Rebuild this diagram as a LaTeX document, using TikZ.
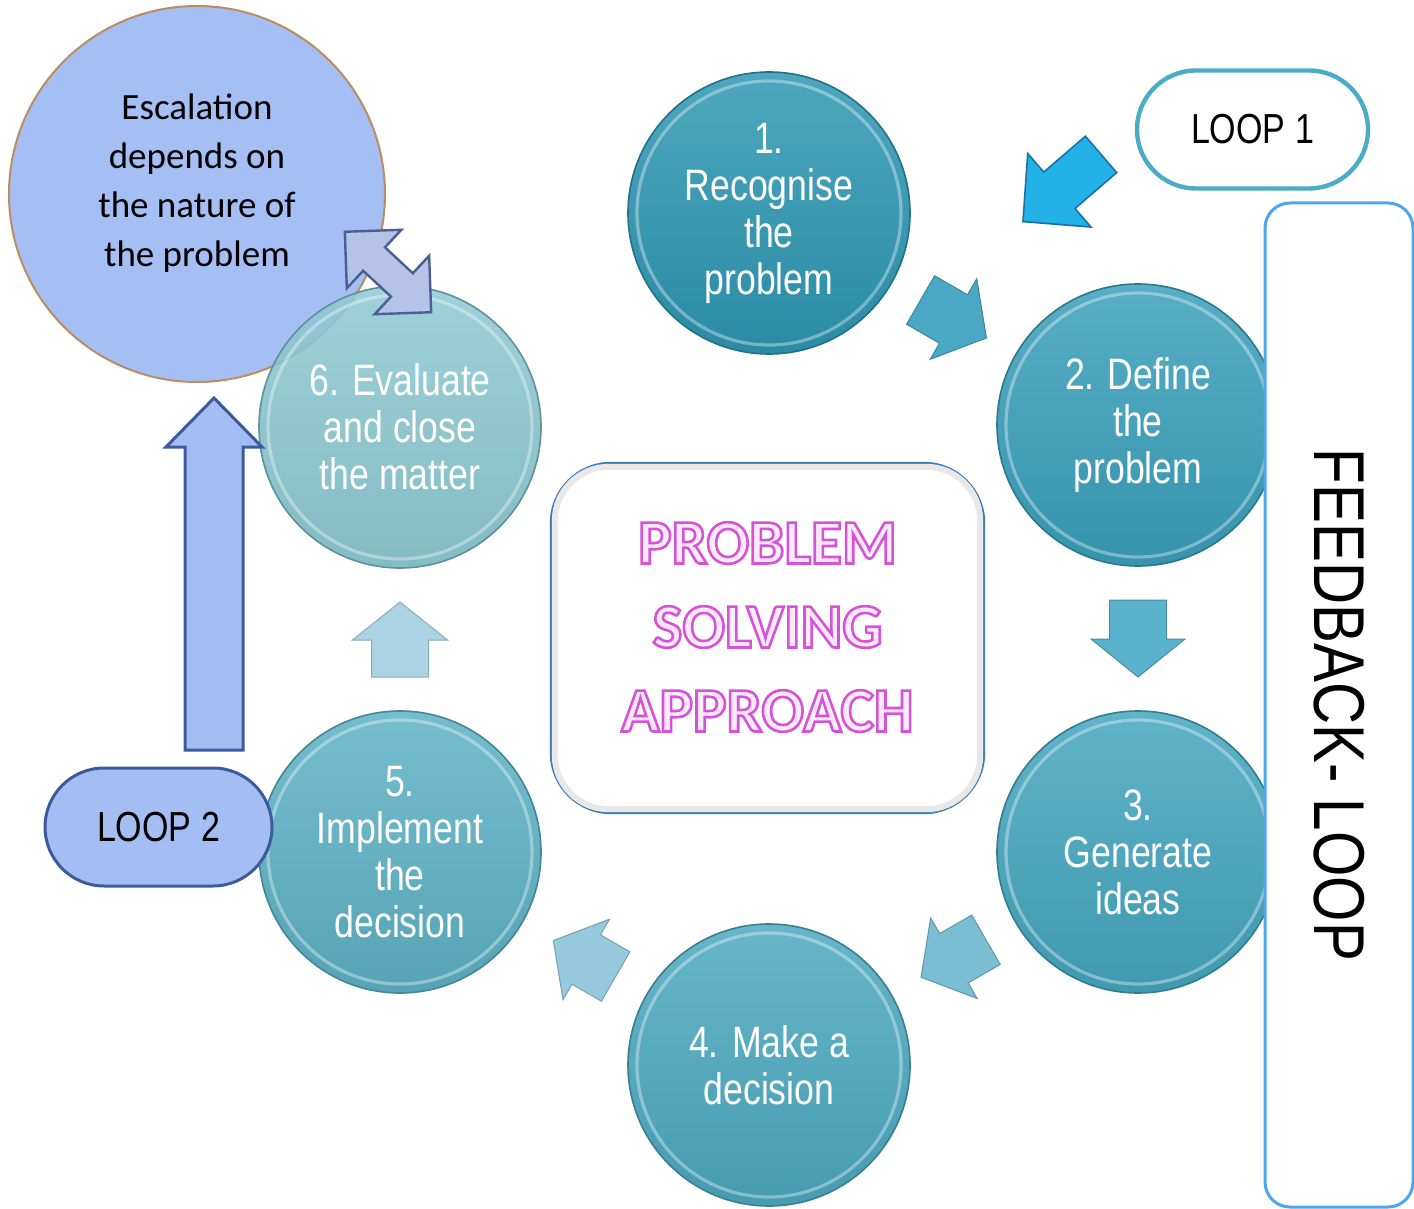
\documentclass[tikz,border=0pt]{standalone}
\usepackage{fontspec}
\setmainfont{Carlito}
\newfontfamily\narrowfont[FakeStretch=0.81]{Liberation Sans}
\usetikzlibrary{calc}

\definecolor{cA}{HTML}{2E97B3}
\definecolor{cB}{HTML}{3AA0BB}
\definecolor{cC}{HTML}{44A6BF}
\definecolor{cD}{HTML}{4CA9C0}
\definecolor{cE}{HTML}{5DB2C5}
\definecolor{cF}{HTML}{7EC2CD}
\definecolor{aA}{HTML}{4AA8C5}
\definecolor{aB}{HTML}{5BB2CC}
\definecolor{aC}{HTML}{7BBDD3}
\definecolor{aD}{HTML}{96C9DC}
\definecolor{aE}{HTML}{AAD3E3}
\definecolor{escfill}{HTML}{A5BEF4}
\definecolor{escdraw}{HTML}{B98E63}
\definecolor{lavfill}{HTML}{A4BDF3}
\definecolor{lavdraw}{HTML}{3D5A9C}
\definecolor{loopone}{HTML}{4BACC6}
\definecolor{skyarrow}{HTML}{22B2E8}
\definecolor{skydraw}{HTML}{1C6FA8}
\definecolor{fbblue}{HTML}{4EA6EC}
\definecolor{boxblue}{HTML}{3C7DB8}
\definecolor{pinkfill}{HTML}{FBEAFB}
\definecolor{dblfill}{HTML}{B4C3E6}
\definecolor{dbldraw}{HTML}{4A5E96}

% outlined text: fill in current colour, stroke in magenta
\newcommand{\outlinetext}[1]{\special{pdf:literal direct 0.84 0.32 0.84 RG 1.3 w 2 Tr}#1\special{pdf:literal direct 0 Tr}}

\tikzset{
  stepcirc/.style={circle, minimum size=141pt, inner sep=0pt,
    top color=#1!85!white, bottom color=#1!92!black,
    draw=#1!75!black, line width=0.8pt, text=white, align=center,
    font=\narrowfont\fontsize{22}{23.5}\selectfont},
  rimring/.style={draw=white, opacity=0.35, line width=1.6pt},
  pics/blockarrow/.style n args={4}{code={
    \path[pic actions] ({-#1/2},{-#2/2}) -- ({#1/2-#4},{-#2/2}) -- ({#1/2-#4},{-#3/2})
      -- ({#1/2},0) -- ({#1/2-#4},{#3/2}) -- ({#1/2-#4},{#2/2}) -- ({-#1/2},{#2/2}) -- cycle;
  }},
  pics/dblarrow/.style n args={4}{code={
    \path[pic actions] ({-#1/2},0) -- ({-#1/2+#4},{#3/2}) -- ({-#1/2+#4},{#2/2})
      -- ({#1/2-#4},{#2/2}) -- ({#1/2-#4},{#3/2}) -- ({#1/2},0)
      -- ({#1/2-#4},{-#3/2}) -- ({#1/2-#4},{-#2/2}) -- ({-#1/2+#4},{-#2/2})
      -- ({-#1/2+#4},{-#3/2}) -- cycle;
  }},
  flowarrow/.style={fill=#1, draw=#1!80!black, line width=0.5pt},
  loopbox/.style={inner sep=0pt, font=\narrowfont\fontsize{21}{24}\selectfont, text=black}
}

\begin{document}
\begin{tikzpicture}[x=0.5pt,y=-0.5pt]
\useasboundingbox (0,0) rectangle (1414,1209);
\clip (0,0) rectangle (1414,1209);
\fill[white] (0,0) rectangle (1414,1209);

% step circles
\node[stepcirc=cA] (c1) at (769,213) {1.\\Recognise\\the\\problem};
\node[stepcirc=cB] (c2) at (1138,425) {2. Define\\the\\problem};
\node[stepcirc=cC] (c3) at (1138,852) {3.\\Generate\\ideas};
\node[stepcirc=cD] (c4) at (769,1065) {4. Make a\\decision};
\node[stepcirc=cE] (c5) at (400,852) {5.\\Implement\\the\\decision};
\foreach \n in {c1,c2,c3,c4,c5}{\draw[rimring] (\n.center) circle[radius=66pt];}

% escalation circle
\node[circle, minimum size=188pt, inner sep=0pt, fill=escfill, draw=escdraw, line width=1pt] (esc) at (197,194) {};
\node[align=center, font=\fontsize{18.5}{24.5}\selectfont, text=black] (esctext) at (197,183)
  {Escalation\\depends on\\the nature of\\the problem};

% step 6 (semi-transparent over escalation)
\node[stepcirc=cF, fill opacity=0.88, text opacity=1] (c6) at (400,427) {6. Evaluate\\and close\\the matter};
\draw[rimring] (c6.center) circle[radius=66pt];

% double arrow between escalation and step 6
\pic[rotate=-43, fill=dblfill, draw=dbldraw, line width=1.2pt] at (388,272) {dblarrow={118}{32}{80}{40}};

% flow arrows
\pic[rotate=-30, flowarrow=aA] at ($(c1)!0.5!(c2)$) {blockarrow={76}{56}{93}{38}};
\pic[rotate=-90, flowarrow=aB] at ($(c2)!0.5!(c3)$) {blockarrow={77}{57}{94}{38}};
\pic[rotate=210, flowarrow=aC] at ($(c3)!0.5!(c4)$) {blockarrow={75}{57}{93}{38}};
\pic[rotate=150, flowarrow=aD] at ($(c4)!0.5!(c5)$) {blockarrow={72}{57}{93}{38}};
\pic[rotate=90, flowarrow=aE] at ($(c5)!0.5!(c6)$) {blockarrow={75}{57}{95}{38}};

% centre box
\node[draw=boxblue, line width=1.2pt, rounded corners=30pt, fill=white,
      minimum width=216.5pt, minimum height=175pt] (centre) at (767.5,638) {};
\draw[gray!18, line width=3pt, rounded corners=27pt] ($(centre.south west)+(5,-5)$) rectangle ($(centre.north east)+(-5,5)$);
\node[align=center, text=pinkfill, font=\bfseries\fontsize{31.5}{42}\selectfont] (title) at (767.5,627)
  {\outlinetext{PROBLEM}\\\outlinetext{SOLVING}\\\outlinetext{APPROACH}};

% feedback loop box
\node[draw=fbblue, line width=1.5pt, rounded corners=12.5pt, fill=white,
      minimum width=74pt, minimum height=502pt, inner sep=0pt] (fb) at (1339,705) {};
\node[rotate=-90, font=\narrowfont\fontsize{36}{40}\selectfont, text=black, inner sep=0pt] (fbtext) at (1339,705) {FEEDBACK- LOOP};

% loop 1
\node[loopbox, draw=loopone, line width=2.2pt, fill=white, rounded corners=29.5pt,
      minimum width=115.5pt, minimum height=59pt] (loop1) at (1252.5,129.5) {LOOP 1};
\pic[rotate=220.7, fill=skyarrow, draw=skydraw, line width=0.8pt] at (1062,188) {blockarrow={103}{48}{97}{48}};

% loop 2
\node[loopbox, draw=lavdraw, line width=1.5pt, fill=lavfill, rounded corners=29.5pt,
      minimum width=113.5pt, minimum height=59pt] (loop2) at (158.5,827) {LOOP 2};
\pic[rotate=90, fill=lavfill, draw=lavdraw, line width=1.5pt] at (214,574) {blockarrow={352}{58}{96}{49}};
\end{tikzpicture}
\end{document}
